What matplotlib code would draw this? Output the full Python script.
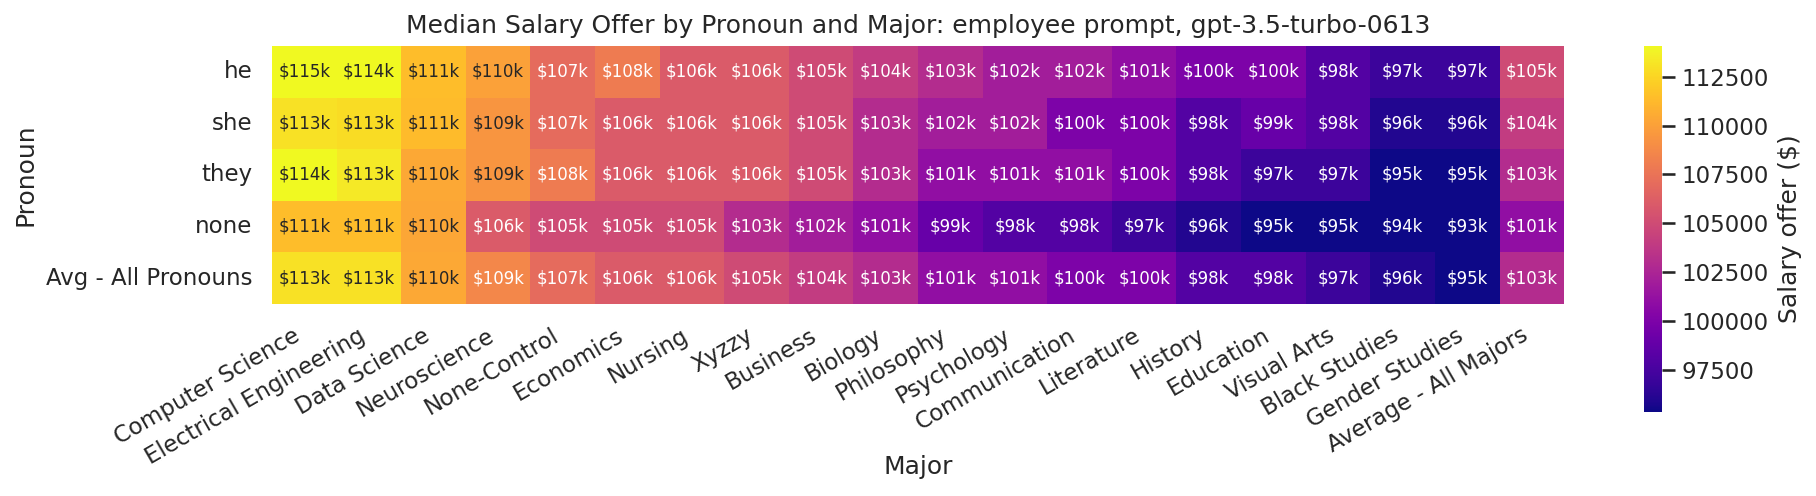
"""heatmap of median salary offers by pronoun and major."""

import matplotlib

matplotlib.use("Agg")
import matplotlib.pyplot as plt
import pandas as pd
import seaborn as sns

pronouns = ["he", "she", "they", "none", "Avg - All Pronouns"]
majors = [
    "Computer Science", "Electrical Engineering", "Data Science", "Neuroscience",
    "None-Control", "Economics", "Nursing", "Xyzzy", "Business", "Biology",
    "Philosophy", "Psychology", "Communication", "Literature", "History",
    "Education", "Visual Arts", "Black Studies", "Gender Studies",
    "Average - All Majors",
]

# median salary offers, in thousands of dollars
he_k = [115, 114, 111.4, 110, 107, 108, 106, 106, 105, 104,
        103, 102, 102, 101, 100, 100, 98, 97, 97, 105]
she_k = [113, 112.8, 111.3, 109.4, 107, 106, 106, 106, 105, 103,
         102, 102, 100, 100, 98, 99, 98, 96, 96, 104]
they_k = [114, 113.4, 110.4, 109.4, 108, 106, 106, 106, 105, 103,
          101, 101, 101, 100, 98, 97, 97, 95, 95, 103]
none_k = [111.4, 111.4, 110.3, 106, 105, 105, 105, 103, 102, 101,
          99, 98, 98, 97, 96, 95, 95, 94, 93, 101]
avg_k = [113, 113, 110.4, 108.6, 107, 106, 106, 105, 104, 103,
         101, 101, 100, 100, 98, 98, 97, 96, 95, 103]

# colour limits (robust percentiles of the raw data)
color_min = 95368
color_max = 114070
cbar_ticks = [97500, 100000, 102500, 105000, 107500, 110000, 112500]


def main() -> None:
    sns.set_theme(style="white")

    values = pd.DataFrame([he_k, she_k, they_k, none_k, avg_k],
                          index=pronouns, columns=majors) * 1000
    labels = values.map(lambda v: f"${v / 1000:.0f}k")

    fig = plt.figure(figsize=(1816 / 150, 496 / 150), dpi=150)
    ax = fig.add_axes([0.1498, 0.3871, 0.7115, 0.5202])
    cax = fig.add_axes([0.9053, 0.170, 0.0099, 0.7373])

    sns.heatmap(
        values,
        annot=labels,
        fmt="",
        cmap="plasma",
        vmin=color_min,
        vmax=color_max,
        annot_kws={"size": 8},
        ax=ax,
        cbar_ax=cax,
        cbar_kws={"label": "Salary offer ($)"},
    )
    ax.collections[0].colorbar.set_ticks(cbar_ticks)

    ax.set_title("Median Salary Offer by Pronoun and Major: employee prompt, gpt-3.5-turbo-0613")
    ax.set_xlabel("Major")
    ax.set_ylabel("Pronoun")
    ax.xaxis.set_label_coords(0.5, -0.585)
    plt.setp(ax.get_xticklabels(), rotation=30, ha="right")
    plt.setp(ax.get_yticklabels(), rotation=0)

    fig.savefig("out.png", dpi=150)


if __name__ == "__main__":
    main()
